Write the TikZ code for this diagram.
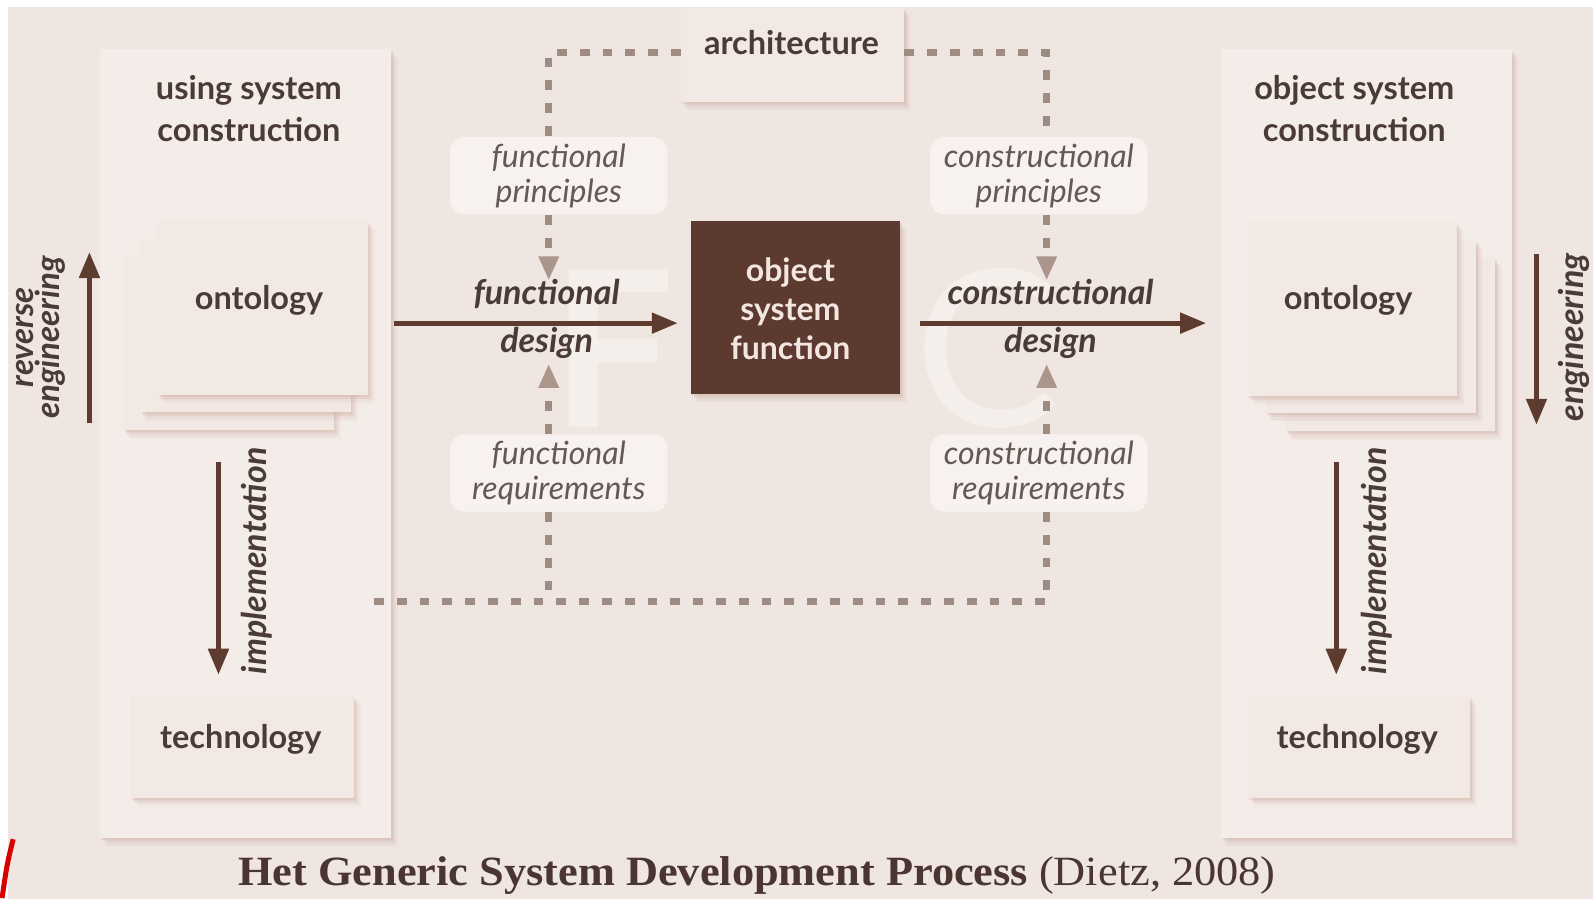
\documentclass[tikz,border=0pt]{standalone}
\usepackage{fontspec}
\setmainfont{Lato}
\newfontfamily\capfont{Liberation Serif}
\usetikzlibrary{arrows.meta,shadows}
\definecolor{bgc}{HTML}{EFE6E1}
\definecolor{panelc}{HTML}{F4ECE8}
\definecolor{boxc}{HTML}{F2E9E5}
\definecolor{shc}{HTML}{C9A89C}
\definecolor{txt}{HTML}{4B3B36}
\definecolor{dark}{HTML}{5E3B2F}
\definecolor{osfc}{HTML}{5C3A2F}
\definecolor{dashc}{HTML}{9E8B82}
\definecolor{tipc}{HTML}{AC968B}
\definecolor{lblc}{HTML}{F7F2EF}
\definecolor{wm}{HTML}{F5EFEC}
\definecolor{osftxt}{HTML}{F3E6E0}
\definecolor{capc}{HTML}{4A3530}
\begin{document}
\begin{tikzpicture}[x=1pt,y=-1pt,scale=1.01594,every node/.append style={transform shape},
  shd/.style={
    general shadow={shadow xshift=1.5pt,shadow yshift=-2pt,fill=shc,opacity=0.22},
    general shadow={shadow xshift=3pt,shadow yshift=-4pt,fill=shc,opacity=0.18},
    general shadow={shadow xshift=5pt,shadow yshift=-6.5pt,fill=shc,opacity=0.13},
    general shadow={shadow xshift=7pt,shadow yshift=-9pt,fill=shc,opacity=0.08}},
  panel/.style={fill=panelc,draw=none,shd,inner sep=0pt},
  card/.style={fill=boxc,draw=none,shd,inner sep=0pt},
  ctext/.style={text=txt,font=\fontsize{32}{38}\selectfont\bfseries},
  lbl/.style={fill=lblc,draw=none,rounded corners=14pt,inner sep=0pt,minimum width=214,minimum height=76,
     text=txt!85,align=center,font=\fontsize{31.5}{35}\selectfont\itshape},
  head/.style={text=txt,align=center,font=\fontsize{32}{42}\selectfont\bfseries},
  dsg/.style={text=txt,align=center,font=\fontsize{33.5}{48}\selectfont\bfseries\itshape},
  bigarrow/.style={draw=dark,line width=5pt,-{Triangle[length=26pt,width=20pt]}},
  dashln/.style={draw=dashc,line width=6.8pt,dash pattern=on 9.8pt off 13pt},
  dasharrow/.style={dashln,-{Triangle[length=24pt,width=19pt,color=tipc,fill=tipc]}},
  side/.style={text=txt,align=center,rotate=90,font=\fontsize{33.5}{22}\selectfont\bfseries\itshape},
  wmark/.style={text=wm,inner sep=0pt}]
\useasboundingbox (0,0) rectangle (1568,884.87);
\fill[white] (0,0) rectangle (1568,884.87);
\fill[bgc] (8,7) rectangle (1568,884.87);
\draw[line width=5pt,red!85!black] (13,826) .. controls (7,850) .. (2,884);

% watermark letters
\node[wmark,font=\fontsize{215}{215}\selectfont\bfseries] (wF) at (604,343) {F};
\node[wmark,font=\fontsize{215}{215}\selectfont] (wC) at (972,343) {C};

% panels
\node[panel,minimum width=287,minimum height=777] (lp) at (241.5,436.5) {};
\node[panel,minimum width=286,minimum height=777] (rp) at (1345,436.5) {};
\node[head] (lpt) at (245,107) {using system\\construction};
\node[head] (rpt) at (1333,107) {object system\\construction};

% ontology stacks
\node[card,minimum width=207,minimum height=171] (o3) at (225,338) {};
\node[card,minimum width=207,minimum height=171] (o2) at (241.5,320.5) {};
\node[card,minimum width=207,minimum height=171] (o1) at (258.5,303) {};
\node[ctext] (o1t) at (255,296) {ontology};
\node[card,minimum width=207,minimum height=171] (r3) at (1368.5,339) {};
\node[card,minimum width=207,minimum height=171] (r2) at (1349.5,321.5) {};
\node[card,minimum width=207,minimum height=171] (r1) at (1330.5,304) {};
\node[ctext] (r1t) at (1327,296) {ontology};

% technology
\node[card,minimum width=220,minimum height=100] (t1) at (238,735) {};
\node[ctext] (t1t) at (237,728) {technology};
\node[card,minimum width=219,minimum height=100] (t2) at (1337.5,735) {};
\node[ctext] (t2t) at (1336,728) {technology};

% architecture
\node[card,minimum width=220,minimum height=93] (arch) at (780,54) {};
\node[ctext] (archt) at (779,42) {architecture};

% object system function
\node[fill=osfc,inner sep=0pt,minimum width=206,minimum height=170,shd] (osf) at (783,303) {};
\node[text=osftxt,align=center,font=\fontsize{31.5}{38.5}\selectfont\bfseries] (osft) at (778,304) {object\\system\\function};

% label boxes
\node[lbl] (fp) at (550,173) {functional\\principles};
\node[lbl] (cp) at (1022.5,173) {constructional\\principles};
\node[lbl] (fr) at (550,465.5) {functional\\requirements};
\node[lbl] (cr) at (1022.5,465.5) {constructional\\requirements};

% dashed connections
\coordinate (aW) at (670,52);
\coordinate (aE) at (890,52);
\coordinate (fpN) at (540,135);
\coordinate (fpS) at (540,212);
\coordinate (cpN) at (1030,135);
\coordinate (cpS) at (1030,212);
\coordinate (frN) at (540,427);
\coordinate (frS) at (540,504);
\coordinate (crN) at (1030,427);
\coordinate (crS) at (1030,504);
\coordinate (fdT) at (540,276);
\coordinate (fdB) at (540,358);
\coordinate (cdT) at (1030,276);
\coordinate (cdB) at (1030,358);
\coordinate (bl) at (368,592);
\draw[dashln] (aW) -| (fpN);
\draw[dashln] (aE) -| (cpN);
\draw[dasharrow] (fpS) -- (fdT);
\draw[dasharrow] (cpS) -- (cdT);
\draw[dasharrow] (frN) -- (fdB);
\draw[dasharrow] (crN) -- (cdB);
\draw[dashln] (frS) -- (frS |- bl);
\draw[dashln] (bl) -| (crS);

% design arrows
\coordinate (fdS) at (388,318);
\coordinate (fdE) at (667,318);
\coordinate (cdS) at (905,318);
\coordinate (cdE) at (1187,318);
\draw[bigarrow] (fdS) -- (fdE);
\draw[bigarrow] (cdS) -- (cdE);
\node[dsg] (fdl) at (538,314) {functional\\design};
\node[dsg] (cdl) at (1034,314) {constructional\\design};

% side arrows
\coordinate (reB) at (88,416);
\coordinate (reT) at (88,248);
\draw[bigarrow] (reB) -- (reT);
\node[side,font=\fontsize{32.5}{23}\selectfont\bfseries\itshape] (ret) at (40,332) {reverse\\engineering};
\coordinate (enT) at (1512,250);
\coordinate (enB) at (1512,418);
\draw[bigarrow] (enT) -- (enB);
\node[side] (ent) at (1549,332) {engineering};
\coordinate (i1T) at (215,455);
\coordinate (i1B) at (215,664);
\draw[bigarrow] (i1T) -- (i1B);
\node[side] (i1t) at (253,552) {implementation};
\coordinate (i2T) at (1315,455);
\coordinate (i2B) at (1315,664);
\draw[bigarrow] (i2T) -- (i2B);
\node[side] (i2t) at (1355,552) {implementation};

% caption
\node[text=capc,font=\capfont\fontsize{41}{46}\selectfont,xscale=1.065] (cap) at (745,862)
  {\textbf{Het Generic System Development Process} (Dietz, 2008)};
\end{tikzpicture}
\end{document}
